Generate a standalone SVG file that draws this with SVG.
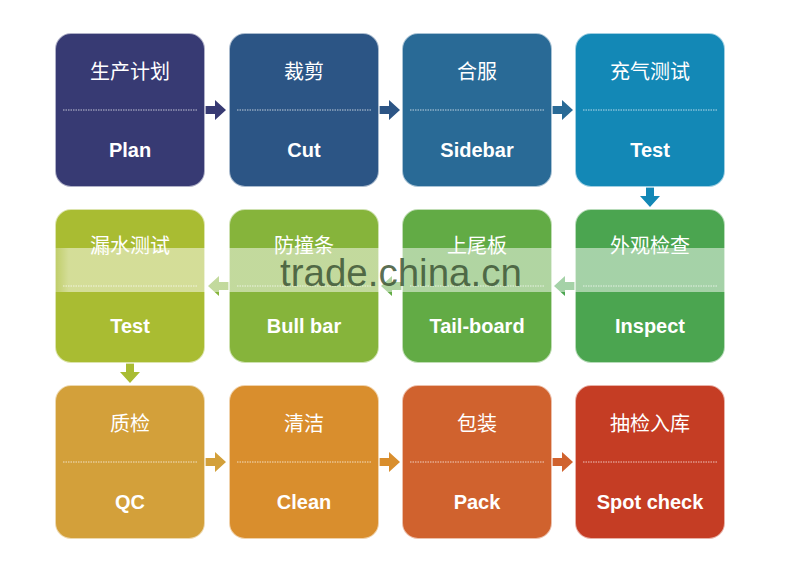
<svg xmlns="http://www.w3.org/2000/svg" width="800" height="568" viewBox="0 0 800 568">
<style>
.box{stroke:#ffffff;stroke-opacity:0.6;stroke-width:2}
.cn{font-family:"Noto Sans CJK SC","Noto Sans",sans-serif;font-size:20px;fill:#ffffff;text-anchor:middle}
.en{font-family:"Liberation Sans",Arial,sans-serif;font-weight:bold;font-size:20px;fill:#ffffff;text-anchor:middle}
.div{stroke:#ffffff;stroke-opacity:0.7;stroke-width:1;stroke-dasharray:1.5 1}
.wm{font-family:"Liberation Sans",Arial,sans-serif;font-size:38.5px;fill:#3d5535;fill-opacity:0.85}
</style>
<defs>
<linearGradient id="band" x1="0" y1="0" x2="1" y2="0">
<stop offset="0" stop-color="#ffffff" stop-opacity="0"/>
<stop offset="0.04" stop-color="#ffffff" stop-opacity="0.5"/>
<stop offset="0.96" stop-color="#ffffff" stop-opacity="0.5"/>
<stop offset="1" stop-color="#ffffff" stop-opacity="0"/>
</linearGradient>
</defs>
<rect width="800" height="568" fill="#ffffff"/>
<g id="connectors">
<polygon points="205,106 215,106 215,100 226,110 215,120 215,114 205,114" fill="#373a73"/>
<polygon points="379,106 389,106 389,100 400,110 389,120 389,114 379,114" fill="#2c5585"/>
<polygon points="552,106 562,106 562,100 573,110 562,120 562,114 552,114" fill="#296a96"/>
<polygon points="646,187 646,196 640,196 650,207 660,196 654,196 654,187" fill="#1388b6"/>
<polygon points="575,282 565,282 565,276 554,286 565,296 565,290 575,290" fill="#4ba550"/>
<polygon points="402,282 392,282 392,276 381,286 392,296 392,290 402,290" fill="#62ab45"/>
<polygon points="229,282 219,282 219,276 208,286 219,296 219,290 229,290" fill="#86b43b"/>
<polygon points="126,363 126,372 120,372 130,383 140,372 134,372 134,363" fill="#a9bc32"/>
<polygon points="205,458 215,458 215,452 226,462 215,472 215,466 205,466" fill="#d3a03a"/>
<polygon points="379,458 389,458 389,452 400,462 389,472 389,466 379,466" fill="#d98e2d"/>
<polygon points="552,458 562,458 562,452 573,462 562,472 562,466 552,466" fill="#d0622e"/>
</g>
<g id="n1"><rect class="box" x="55" y="33" width="150" height="154" rx="16" fill="#373a73"/><text class="cn" x="130" y="79">生产计划</text><line class="div" x1="63" y1="110" x2="197" y2="110"/><text class="en" x="130" y="157">Plan</text></g>
<g id="n2"><rect class="box" x="229" y="33" width="150" height="154" rx="16" fill="#2c5585"/><text class="cn" x="304" y="79">裁剪</text><line class="div" x1="237" y1="110" x2="371" y2="110"/><text class="en" x="304" y="157">Cut</text></g>
<g id="n3"><rect class="box" x="402" y="33" width="150" height="154" rx="16" fill="#296a96"/><text class="cn" x="477" y="79">合服</text><line class="div" x1="410" y1="110" x2="544" y2="110"/><text class="en" x="477" y="157">Sidebar</text></g>
<g id="n4"><rect class="box" x="575" y="33" width="150" height="154" rx="16" fill="#1388b6"/><text class="cn" x="650" y="79">充气测试</text><line class="div" x1="583" y1="110" x2="717" y2="110"/><text class="en" x="650" y="157">Test</text></g>
<g id="n5"><rect class="box" x="55" y="209" width="150" height="154" rx="16" fill="#a9bc32"/><text class="cn" x="130" y="253">漏水测试</text><line class="div" x1="63" y1="286" x2="197" y2="286"/><text class="en" x="130" y="333">Test</text></g>
<g id="n6"><rect class="box" x="229" y="209" width="150" height="154" rx="16" fill="#86b43b"/><text class="cn" x="304" y="253">防撞条</text><line class="div" x1="237" y1="286" x2="371" y2="286"/><text class="en" x="304" y="333">Bull bar</text></g>
<g id="n7"><rect class="box" x="402" y="209" width="150" height="154" rx="16" fill="#62ab45"/><text class="cn" x="477" y="253">上尾板</text><line class="div" x1="410" y1="286" x2="544" y2="286"/><text class="en" x="477" y="333">Tail-board</text></g>
<g id="n8"><rect class="box" x="575" y="209" width="150" height="154" rx="16" fill="#4ba550"/><text class="cn" x="650" y="253">外观检查</text><line class="div" x1="583" y1="286" x2="717" y2="286"/><text class="en" x="650" y="333">Inspect</text></g>
<g id="n9"><rect class="box" x="55" y="385" width="150" height="154" rx="16" fill="#d3a03a"/><text class="cn" x="130" y="431">质检</text><line class="div" x1="63" y1="462" x2="197" y2="462"/><text class="en" x="130" y="509">QC</text></g>
<g id="n10"><rect class="box" x="229" y="385" width="150" height="154" rx="16" fill="#d98e2d"/><text class="cn" x="304" y="431">清洁</text><line class="div" x1="237" y1="462" x2="371" y2="462"/><text class="en" x="304" y="509">Clean</text></g>
<g id="n11"><rect class="box" x="402" y="385" width="150" height="154" rx="16" fill="#d0622e"/><text class="cn" x="477" y="431">包装</text><line class="div" x1="410" y1="462" x2="544" y2="462"/><text class="en" x="477" y="509">Pack</text></g>
<g id="n12"><rect class="box" x="575" y="385" width="150" height="154" rx="16" fill="#c53d24"/><text class="cn" x="650" y="431">抽检入库</text><line class="div" x1="583" y1="462" x2="717" y2="462"/><text class="en" x="650" y="509">Spot check</text></g>
<g id="watermark">
<rect x="40" y="248" width="720" height="44" fill="url(#band)"/>
<text class="wm" x="280" y="286">trade.china.cn</text>
</g>
</svg>
